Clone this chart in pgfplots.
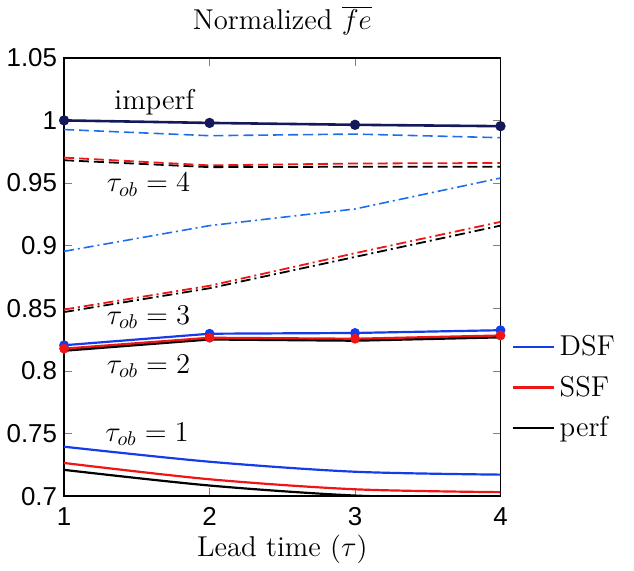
\documentclass[border=0pt]{standalone}
\usepackage{fontspec}
\usepackage{pgfplots}
\pgfplotsset{compat=1.18}
\newfontfamily\tickfont{Liberation Sans}
\definecolor{mblue}{RGB}{20,60,235}
\definecolor{lblue}{RGB}{30,110,235}
\definecolor{mred}{RGB}{240,20,20}
\definecolor{navy}{RGB}{20,25,90}
\begin{document}
\begin{tikzpicture}
\begin{axis}[
  at={(0,0)}, anchor=south west,
  scale only axis, width=219pt, height=220pt,
  xmin=1, xmax=4, ymin=0.7, ymax=1.05,
  xtick={1,2,3,4},
  ytick={0.7,0.75,0.8,0.85,0.9,0.95,1,1.05},
  tick align=inside, ticks=both,
  xtick pos=both, ytick pos=both,
  major tick length=4pt,
  /pgf/number format/assume math mode=true,
  ticklabel style={font=\tickfont\fontsize{13}{15}\selectfont},
  xticklabel style={yshift=-2pt},
  title={Normalized $\overline{fe}$},
  title style={font=\Large, at={(0.5,1)}, anchor=base, yshift=8pt, inner sep=0pt},
  xlabel={Lead time ($\tau$)},
  xlabel style={font=\Large, at={(0.5,0)}, anchor=base, yshift=-30.5pt},
  legend style={at={(1.01,0.386)}, anchor=north west, draw=none, fill=none, font=\Large, row sep=4.7pt},
  legend cell align=left,
  legend image code/.code={\draw[#1] (0pt,0pt) -- (21pt,0pt);},
  axis line style={line width=0.8pt},
]
% imperf
\addplot[forget plot, navy, line width=1.3pt, mark=*, mark size=1.9pt] coordinates {(1,1.000) (2,0.998) (3,0.9965) (4,0.9954)};
% dashed group
\addplot[forget plot, lblue, line width=0.8pt, dash pattern=on 5pt off 2.5pt] coordinates {(1,0.9927) (2,0.9878) (3,0.9891) (4,0.9862)};
\addplot[forget plot, black, line width=0.9pt, dash pattern=on 5pt off 2.5pt] coordinates {(1,0.9682) (2,0.9627) (3,0.9630) (4,0.9630)};
\addplot[forget plot, mred, line width=0.9pt, dash pattern=on 5pt off 2.5pt] coordinates {(1,0.9703) (2,0.9641) (3,0.9656) (4,0.9660)};
% dash-dot group
\addplot[forget plot, lblue, line width=0.8pt, dash pattern=on 5pt off 2pt on 1pt off 2pt] coordinates {(1,0.8955) (2,0.9160) (3,0.9293) (4,0.9540)};
\addplot[forget plot, black, line width=0.9pt, dash pattern=on 5pt off 2pt on 1pt off 2pt] coordinates {(1,0.8470) (2,0.8660) (3,0.8910) (4,0.9160)};
\addplot[forget plot, mred, line width=0.9pt, dash pattern=on 5pt off 2pt on 1pt off 2pt] coordinates {(1,0.8490) (2,0.8680) (3,0.8940) (4,0.9190)};
% tau_ob = 3 / 2
\addplot[forget plot, mblue, line width=1.1pt, mark=*, mark size=1.9pt] coordinates {(1,0.8205) (2,0.8297) (3,0.8303) (4,0.8325)};
\addplot[forget plot, black, line width=1.6pt] coordinates {(1,0.8165) (2,0.8255) (3,0.8245) (4,0.8272)};
\addplot[forget plot, mred, line width=1.1pt, mark=*, mark size=1.9pt] coordinates {(1,0.8178) (2,0.8265) (3,0.8257) (4,0.8283)};
% tau_ob = 1
\addplot[forget plot, mblue, line width=1.1pt, smooth] coordinates {(1,0.7395) (2,0.7275) (3,0.7195) (4,0.7172)};
\addplot[forget plot, mred, line width=1.1pt, smooth] coordinates {(1,0.7265) (2,0.7135) (3,0.7055) (4,0.7032)};
\addplot[forget plot, black, line width=1.1pt, smooth] coordinates {(1,0.7210) (2,0.7085) (3,0.7005) (4,0.6980)};
% legend
\addlegendimage{mblue, line width=1pt}
\addlegendentry{DSF}
\addlegendimage{mred, line width=1.3pt}
\addlegendentry{SSF}
\addlegendimage{black, line width=1.3pt}
\addlegendentry{perf}
% labels
\node[anchor=base, font=\Large] at (axis cs:1.62,1.009) {imperf};
\node[anchor=base, font=\Large] at (axis cs:1.58,0.943) {$\tau_{ob}=4$};
\node[anchor=base, font=\Large] at (axis cs:1.58,0.837) {$\tau_{ob}=3$};
\node[anchor=base, font=\Large] at (axis cs:1.58,0.798) {$\tau_{ob}=2$};
\node[anchor=base, font=\Large] at (axis cs:1.57,0.744) {$\tau_{ob}=1$};
\end{axis}
\path (-31pt,-37pt) rectangle (286pt,249pt);
\end{tikzpicture}
\end{document}
